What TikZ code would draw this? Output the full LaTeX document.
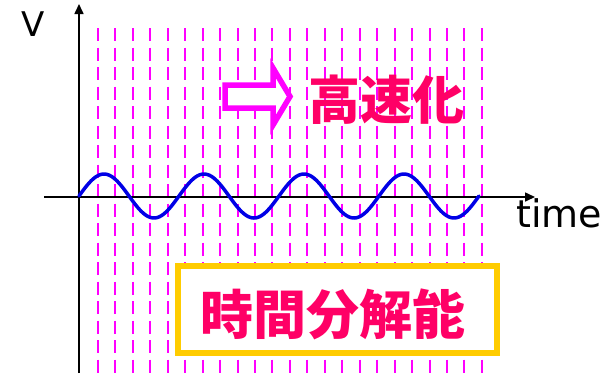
\documentclass[tikz,border=0pt]{standalone}
\usepackage{fontspec}
\setmainfont{DejaVu Sans}
\newfontfamily\cjk{Noto Sans CJK JP}
\usetikzlibrary{arrows.meta}
\definecolor{hotpink}{RGB}{255,0,102}
\definecolor{magline}{RGB}{255,0,255}
\definecolor{gold}{RGB}{255,204,0}
\definecolor{waveblue}{RGB}{0,0,230}
\tikzset{
  gridline/.style={magline, line width=2pt, dash pattern=on 13pt off 6.5pt},
  axisline/.style={black, line width=1.6pt, -{Triangle[length=10pt,width=9pt]}},
  bigtext/.style={text=hotpink, inner sep=0pt, font=\cjk\bfseries\fontsize{52}{60}\selectfont},
  labeltext/.style={inner sep=0pt, font=\fontsize{36}{40}\selectfont}
}
\begin{document}
\begin{tikzpicture}[x=1pt,y=-1pt]
\useasboundingbox (0,0) rectangle (609,373);
% vertical dashed grid
\foreach \i in {0,...,22}{
  \pgfmathsetmacro{\gx}{round(98+17.45*\i)}
  \draw[gridline] (\gx,28) -- (\gx,373);
}
% axes
\coordinate (xs) at (44,197);
\coordinate (xe) at (535,197);
\coordinate (ys) at (79,373);
\coordinate (ye) at (79,4);
\draw[axisline] (xs) -- (xe);
\draw[axisline] (ys) -- (ye);
% wave
\draw[waveblue, line width=3.5pt, line cap=round] plot[domain=79:479, samples=200, smooth] (\x, {196-22*sin((\x-79)*3.6)});
% labels
\node[labeltext, font=\fontsize{34}{40}\selectfont] (vlab) at (33.5,24.5) {V};
\node[labeltext, anchor=base west, font=\fontsize{38}{44}\selectfont] (tlab) at (516,227) {time};
% hollow arrow
\draw[magline, line width=5.5pt, fill=white, line join=miter]
  (225,85) -- (273,85) -- (273,68) -- (290,96.5) -- (273,125) -- (273,108) -- (225,108) -- cycle;
\node[bigtext] (speed) at (386,100) {高速化};
% box
\node[draw=gold, line width=6pt, fill=white, minimum width=319pt, minimum height=87pt, inner sep=0pt] (box) at (337.5,309.5) {};
\node[bigtext, font=\cjk\bfseries\fontsize{53}{60}\selectfont] (res) at (333,314) {時間分解能};
\end{tikzpicture}
\end{document}
